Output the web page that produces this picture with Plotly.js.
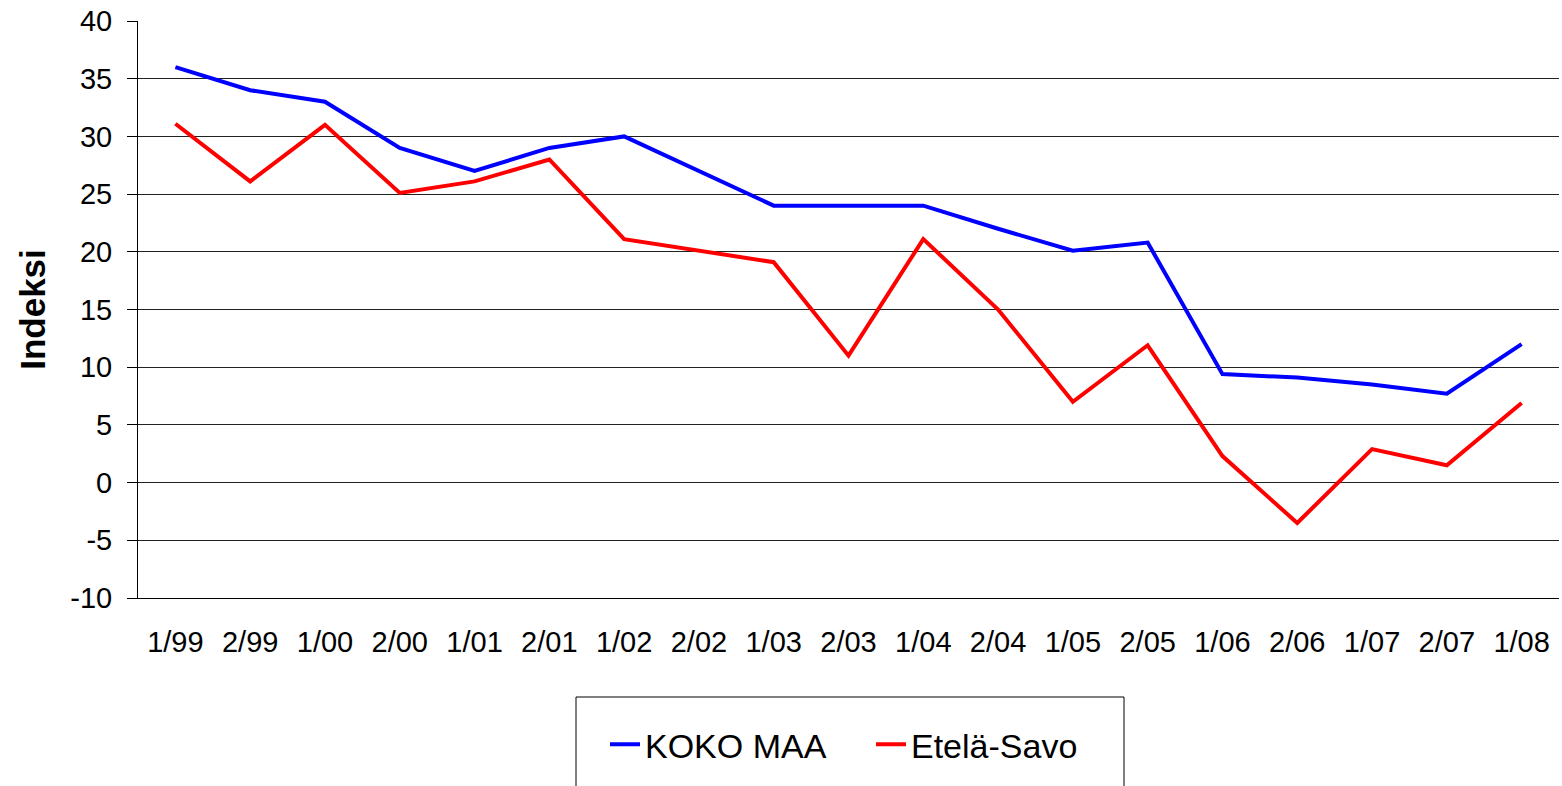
<!DOCTYPE html>
<html>
<head>
<meta charset="utf-8">
<script src="https://cdn.plot.ly/plotly-3.0.1.min.js"></script>
<style>html,body{margin:0;padding:0;background:#fff;}#chart{width:1562px;height:786px;}</style>
</head>
<body>
<div id="chart"></div>
<script>
const categories = ["1/99","2/99","1/00","2/00","1/01","2/01","1/02","2/02","1/03","2/03","1/04","2/04","1/05","2/05","1/06","2/06","1/07","2/07","1/08"];
const kokoMaa = [36, 34, 33, 29, 27, 29, 30, 27, 24, 24, 24, 22, 20.1, 20.8, 9.4, 9.1, 8.5, 7.7, 12];
const etelaSavo = [31.1, 26.1, 31, 25.1, 26.1, 28, 21.1, 20.1, 19.1, 11, 21.1, 15, 7, 11.9, 2.3, -3.5, 2.9, 1.5, 6.9];
const yTicks = [-10, -5, 0, 5, 10, 15, 20, 25, 30, 35, 40];

const traces = [
  {x: categories, y: kokoMaa, name: "KOKO MAA", type: "scatter", mode: "lines",
   line: {color: "#0000FF", width: 4}},
  {x: categories, y: etelaSavo, name: "Etelä-Savo", type: "scatter", mode: "lines",
   line: {color: "#FF0000", width: 4}}
];

const layout = {
  width: 1562, height: 786,
  margin: {l: 138, r: 3, t: 21, b: 188},
  paper_bgcolor: "#fff", plot_bgcolor: "#fff",
  font: {family: "Liberation Sans, Arial, sans-serif", color: "#000"},
  showlegend: true,
  legend: {
    orientation: "h", x: (605 - 138) / 1421, xanchor: "left", y: -0.204, yanchor: "top",
    font: {size: 34, color: "#000"}, bgcolor: "rgba(0,0,0,0)", borderwidth: 0,
    entrywidth: 221, entrywidthmode: "pixels"
  },
  xaxis: {
    type: "category", range: [-0.5, categories.length - 0.5],
    showgrid: false, zeroline: false,
    showline: true, linecolor: "#000", linewidth: 1,
    ticks: "", tickfont: {size: 29}, ticklabelstandoff: 18
  },
  yaxis: {
    range: [-10, 40], tickvals: yTicks, ticktext: yTicks.map(String),
    showgrid: true, gridcolor: "#222", gridwidth: 1, zeroline: false,
    showline: true, linecolor: "#000", linewidth: 1,
    ticks: "outside", ticklen: 10, tickcolor: "#000", tickfont: {size: 29},
    ticklabelstandoff: 9,
    title: {text: "<b>Indeksi</b>", font: {size: 35}, standoff: 14}
  },
  shapes: [
    {type: "rect", xref: "paper", yref: "paper",
     x0: (576 - 138) / 1421, x1: (1124 - 138) / 1421,
     y0: (598 - 697) / 577, y1: (598 - 800) / 577,
     line: {color: "#000", width: 1}, fillcolor: "rgba(0,0,0,0)"}
  ]
};

Plotly.newPlot("chart", traces, layout, {staticPlot: true});
</script>
</body>
</html>
